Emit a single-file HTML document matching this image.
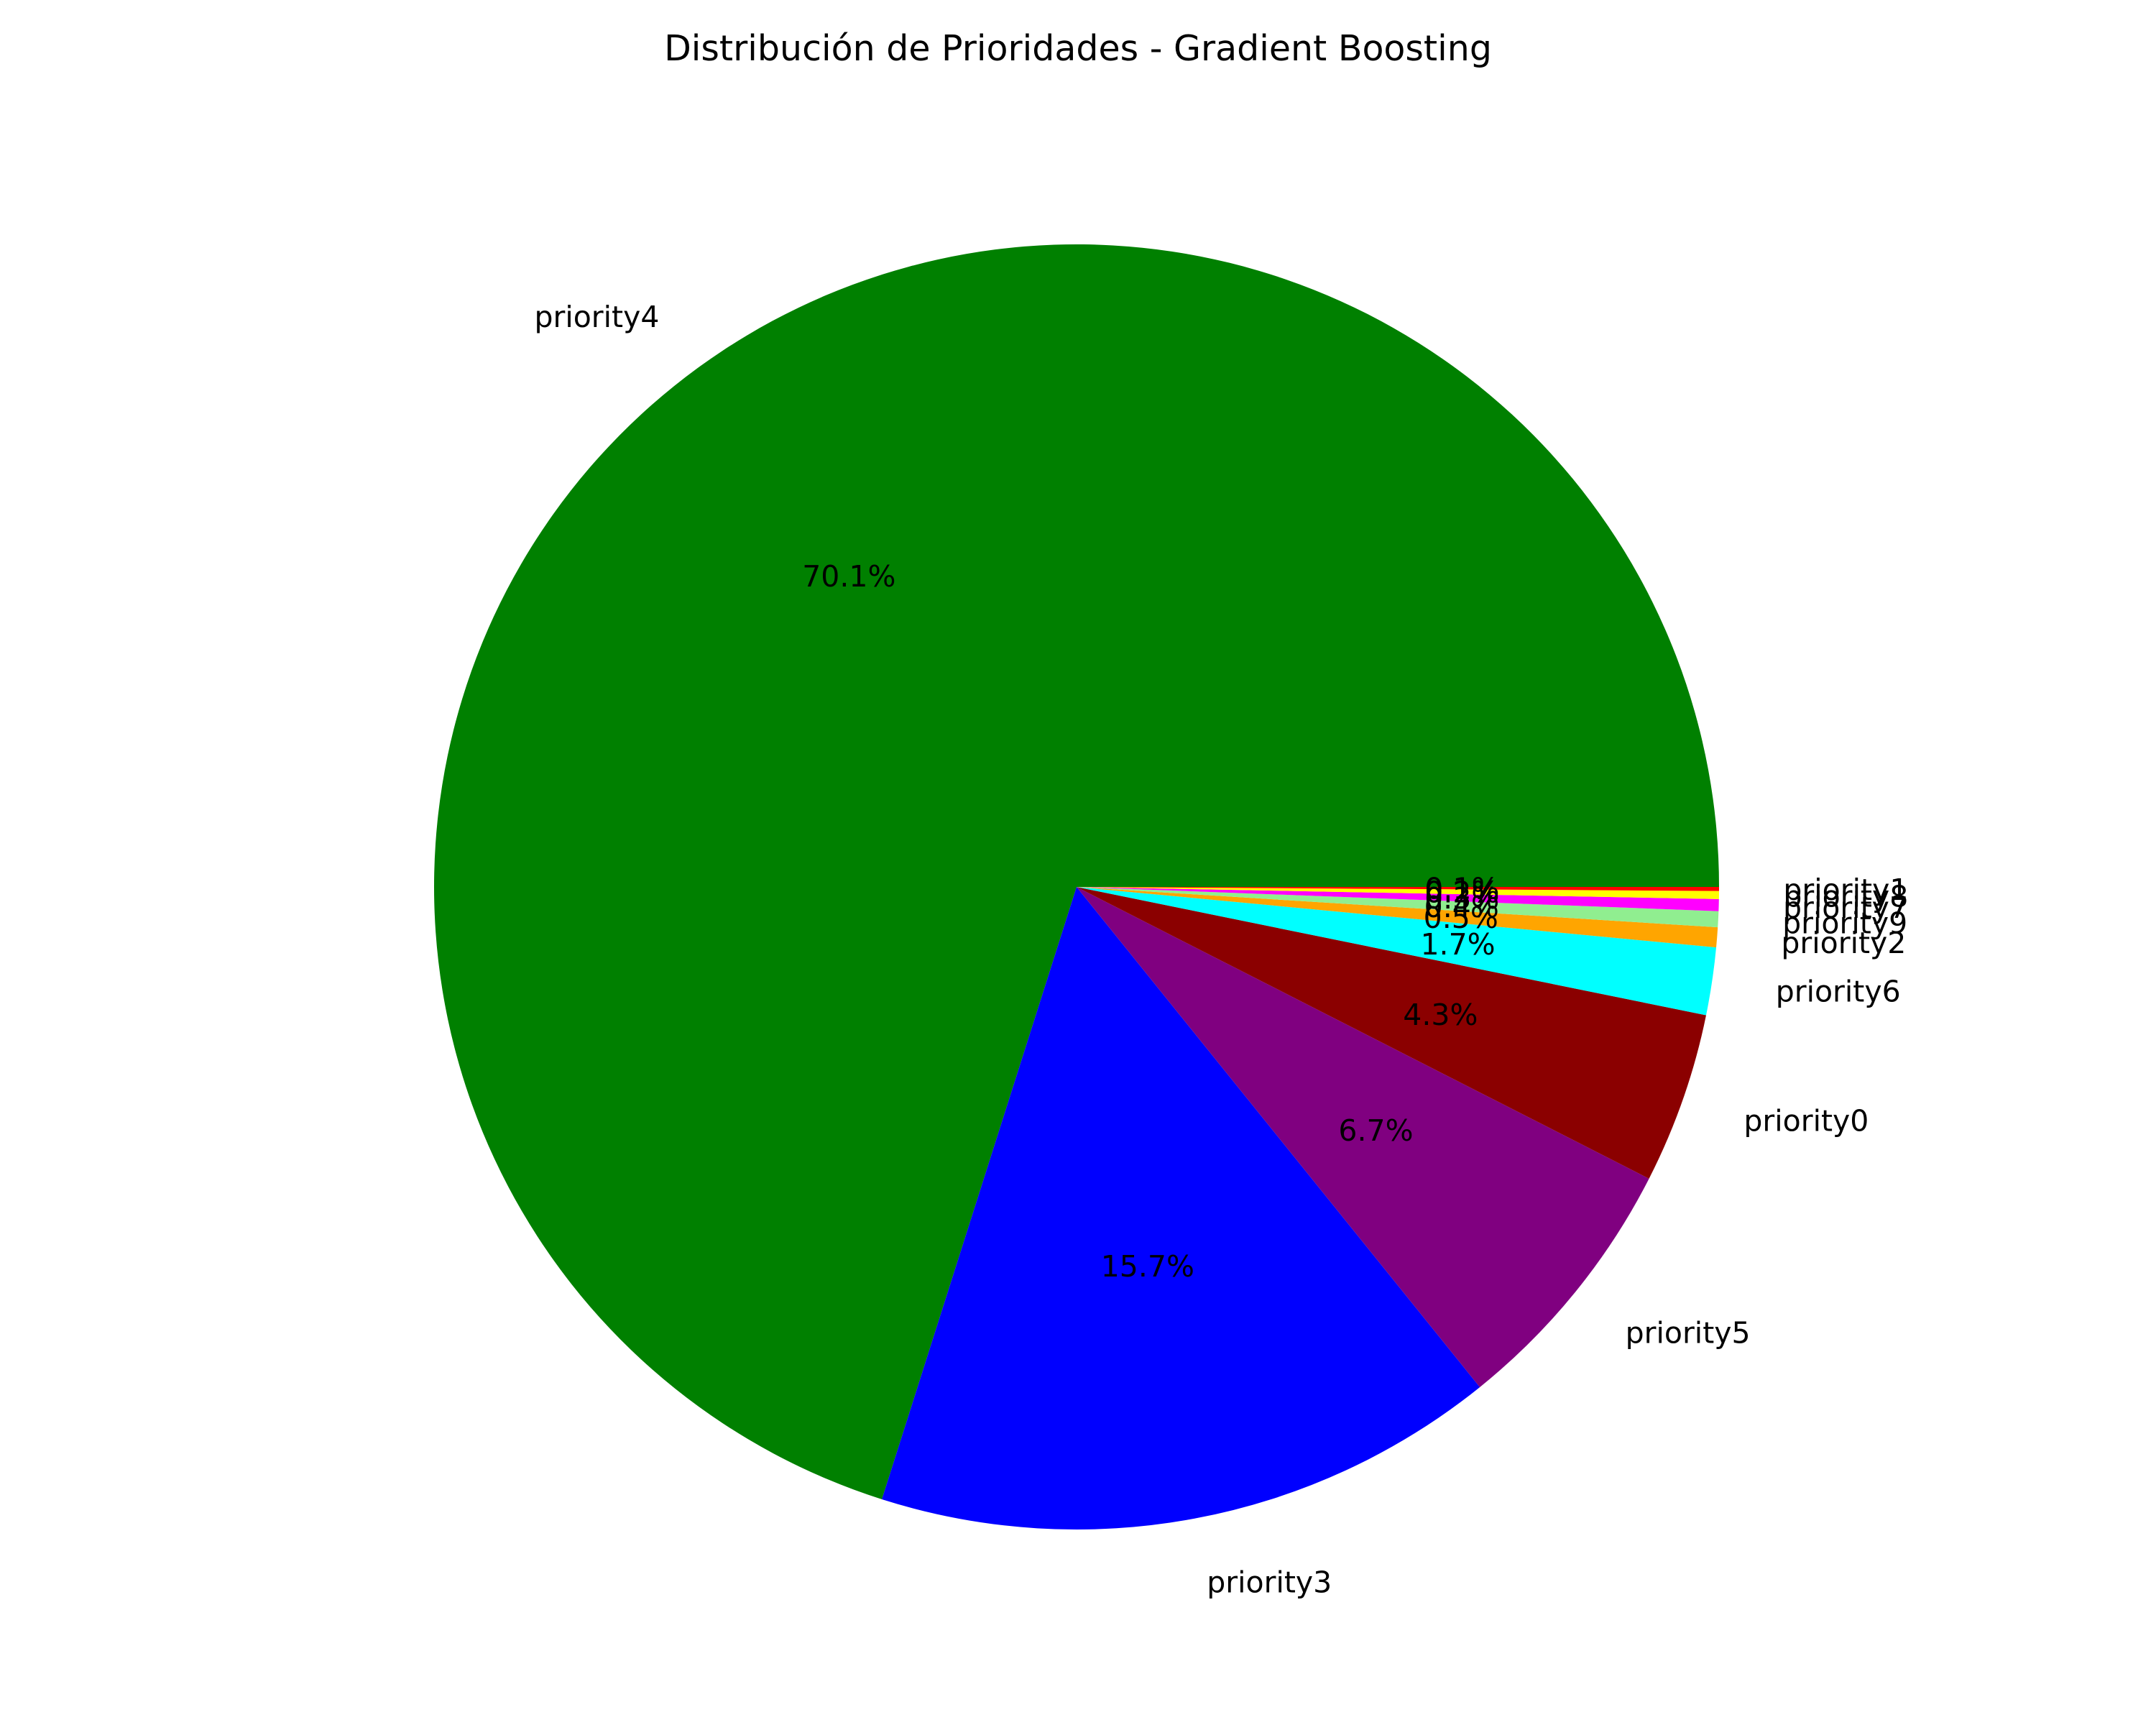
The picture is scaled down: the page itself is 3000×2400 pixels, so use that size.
<!DOCTYPE html>
<html><head><meta charset="utf-8"><style>
html,body{margin:0;padding:0;background:#fff;}
svg{display:block;font-family:"DejaVu Sans","Liberation Sans",sans-serif;}
</style></head><body>
<svg id="chart" width="3000" height="2400" viewBox="0 0 3000 2400" xmlns="http://www.w3.org/2000/svg">
<rect width="3000" height="2400" fill="#fff"/>
<text x="1500" y="84" font-size="49" text-anchor="middle" fill="#000">Distribución de Prioridades - Gradient Boosting</text>
<g id="slices"></g>
<g id="labels"></g>
</svg>
<script>
const categories = ["priority4","priority3","priority5","priority0","priority6","priority2","priority9","priority7","priority8","priority1"];
const values = [70.1,15.7,6.7,4.3,1.7,0.5,0.4,0.3,0.2,0.1];
const colors = ["#008000","#0000ff","#800080","#8b0000","#00ffff","#ffa500","#90ee90","#ff00ff","#ffff00","#ff0000"];
const NS="http://www.w3.org/2000/svg";
const cx=1498, cy=1234, r=894;
const total=values.reduce((a,b)=>a+b,0);
const gS=document.getElementById('slices'), gL=document.getElementById('labels');
function pt(a,rr){return [cx+rr*Math.cos(a), cy-rr*Math.sin(a)];}
let start=0;
values.forEach((v,i)=>{
  const sweep=v/total*2*Math.PI, end=start+sweep;
  const [x1,y1]=pt(start,r),[x2,y2]=pt(end,r);
  const large=sweep>Math.PI?1:0;
  const p=document.createElementNS(NS,'path');
  p.setAttribute('d',`M${cx},${cy} L${x1},${y1} A${r},${r} 0 ${large} 0 ${x2},${y2} Z`);
  p.setAttribute('fill',colors[i]);
  
  
  gS.appendChild(p);
  const mid=(start+end)/2;
  const [lx,ly]=pt(mid,1.1*r);
  const t=document.createElementNS(NS,'text');
  t.setAttribute('x',lx);t.setAttribute('y',ly+15);
  t.setAttribute('font-size','41');
  t.setAttribute('text-anchor',Math.cos(mid)>=0?'start':'end');
  t.textContent=categories[i];
  
  
  gL.appendChild(t);
  const [px,py]=pt(mid,0.6*r);
  const q=document.createElementNS(NS,'text');
  q.setAttribute('x',px);q.setAttribute('y',py+15);
  q.setAttribute('font-size','41');
  q.setAttribute('text-anchor','middle');
  q.textContent=v.toFixed(1)+'%';
  
  
  gL.appendChild(q);
  start=end;
});
</script>
</body></html>
